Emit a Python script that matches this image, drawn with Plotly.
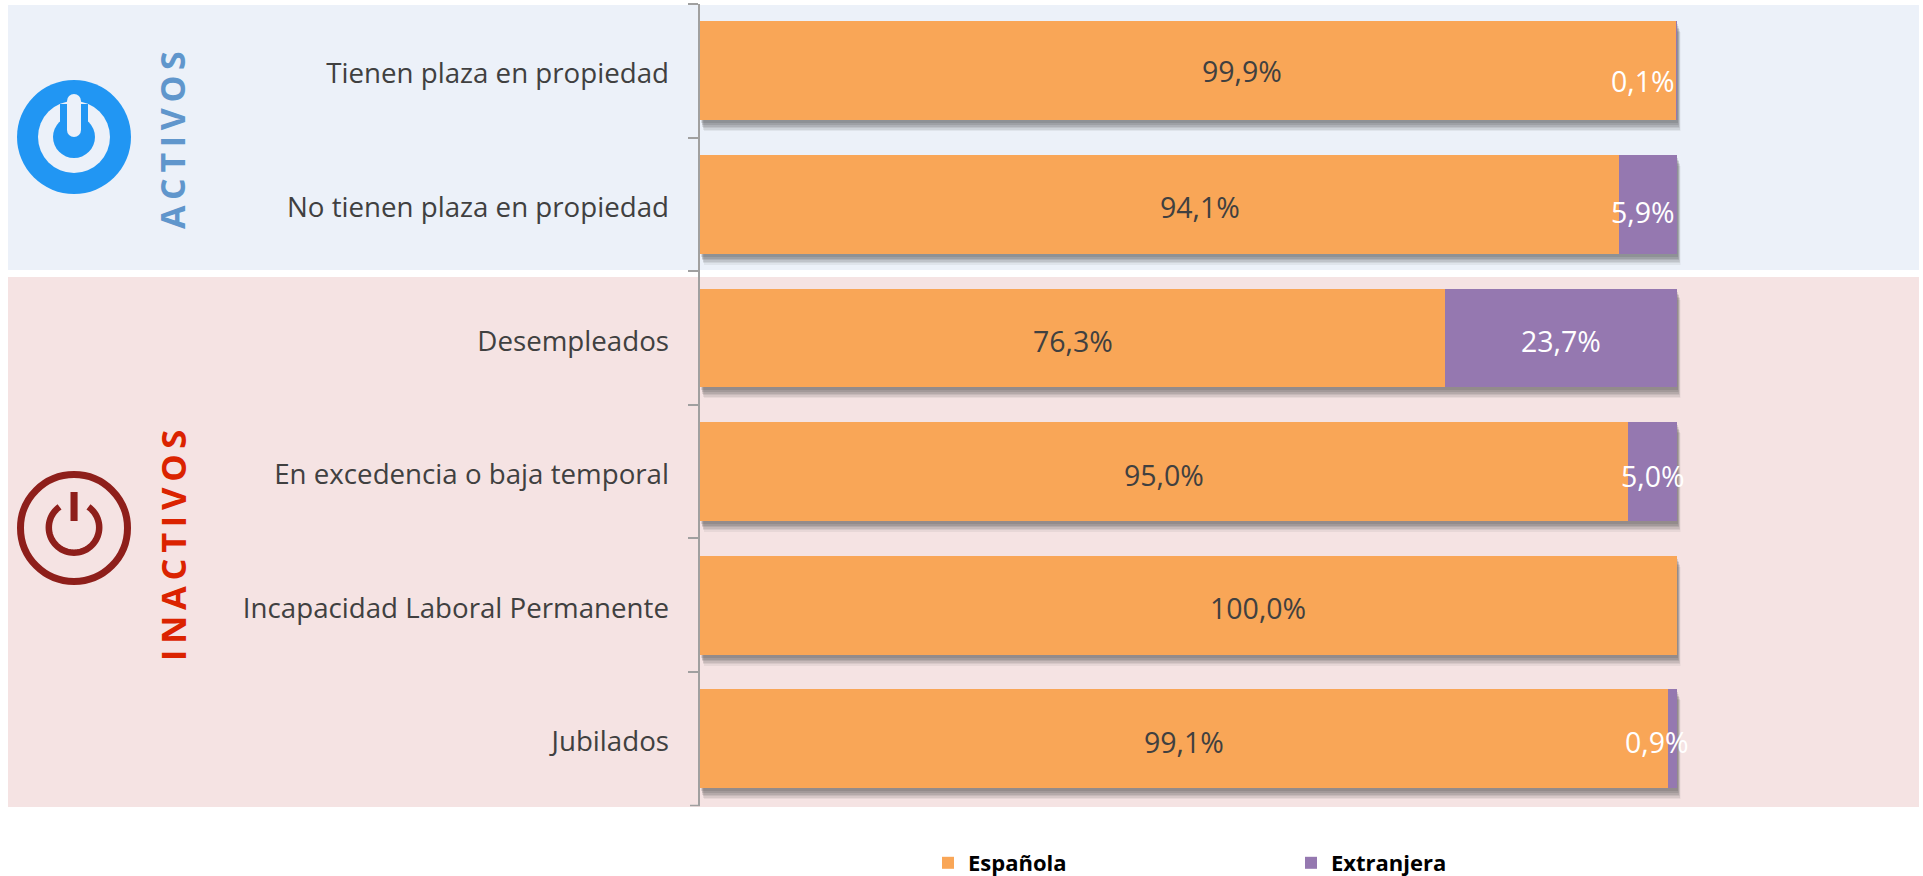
import numpy as np
import plotly.graph_objects as go

categories = ["Tienen plaza en propiedad", "No tienen plaza en propiedad", "Desempleados",
              "En excedencia o baja temporal", "Incapacidad Laboral Permanente", "Jubilados"]
espanola = [99.9, 94.1, 76.3, 95.0, 100.0, 99.1]
extranjera = [0.1, 5.9, 23.7, 5.0, 0.0, 0.9]
series_names = ["Española", "Extranjera"]

# label nudges (style only, px), as placed by hand in the original
esp_dx = [54, 40, 0, 0, 69, 0]
esp_dy = [0, 3, 3, 3, 3, 3]
ext_dx = [-34, -5, 0, 0, 0, -16]
ext_dy = [10, 8, 3, 4, 0, 3]

W, H = 1923, 876
ORANGE, PURPLE = "#F9A657", "#9578B0"
BLUE_BG, RED_BG = "#ECF1F9", "#F5E3E3"
FONT = "Open Sans"
X0, X1, Y0, Y1 = 700, 1677, 4, 805.5


def px(x):
    return x / W


def py(y):
    return 1 - y / H


def rect(x0, y0, x1, y1, fill):
    return dict(type="rect", xref="paper", yref="paper", x0=px(x0), x1=px(x1), y0=py(y0), y1=py(y1),
                fillcolor=fill, line_width=0, layer="below")


def circle(cx, cy, r, fill, line=None, lw=0):
    return dict(type="circle", xref="paper", yref="paper", x0=px(cx - r), x1=px(cx + r), y0=py(cy - r),
                y1=py(cy + r), fillcolor=fill, line=dict(color=line or fill, width=lw), layer="below")


fig = go.Figure()
shapes = [rect(8, 5, 1919, 270, BLUE_BG), rect(8, 277, 1919, 807, RED_BG)]

# blue power icon
shapes += [circle(74, 137, 57, "#2196F3"), circle(74, 137, 36, BLUE_BG), circle(74, 137, 21, "#2196F3"),
           rect(60, 104, 88, 137, "#2196F3"), rect(67, 101, 81, 130, BLUE_BG),
           circle(74, 101, 7, BLUE_BG), circle(74, 130, 7, BLUE_BG)]
# red power icon
RED = "#8E1F1B"
shapes += [circle(74, 528, 53.5, "rgba(0,0,0,0)", RED, 7)]
t = np.radians(np.arange(-55, 236, 5))
arc_pts = [(74 + 25.2 * np.sin(np.radians(90) - a), 527.5 + 25.2 * np.cos(np.radians(90) - a)) for a in t]
path = "M" + "L".join(f"{px(a):.5f},{py(b):.5f}" for a, b in arc_pts)
shapes += [dict(type="path", xref="paper", yref="paper", path=path, line=dict(color=RED, width=6.5), layer="below"),
           rect(70.5, 492, 77.6, 521, RED)]
# closing tick at the foot of the category axis
shapes += [dict(type="line", xref="paper", yref="paper", x0=px(X0 - 10), x1=px(X0), y0=py(Y1), y1=py(Y1),
                line=dict(color="#A0A0A0", width=1.5))]

# soft shadow: the same totals drawn on slightly displaced copies of the axes
totals = [a + b for a, b in zip(espanola, extranjera)]
layers = [(3.5, 11, .07), (3, 9.5, .09), (2.5, 8, .11), (2, 6.5, .13), (1.5, 5, .14), (1, 3, .14)]
axes = {}
for i, (dx, dy, al) in enumerate(layers, start=1):
    fig.add_trace(go.Bar(y=categories, x=totals, orientation="h", xaxis=f"x{i}", yaxis=f"y{i}",
                         marker=dict(color=f"rgba(60,60,60,{al})", line_width=0), showlegend=False,
                         hoverinfo="skip", width=0.74))
    axes[f"xaxis{i}"] = dict(domain=[px(X0 + dx), px(X1 + dx)], range=[0, 100], visible=False, anchor=f"y{i}")
    axes[f"yaxis{i}"] = dict(domain=[py(Y1 + dy), py(Y0 + dy)], range=[5.5, -0.5], visible=False,
                             anchor=f"x{i}", type="category", categoryorder="array", categoryarray=categories)
# the category names sit 3px lower than the row centres: they use the last displaced axis
axes[f"yaxis{len(layers)}"].update(visible=True, showline=False, ticks="", showgrid=False, zeroline=False,
                                   ticklabelstandoff=31, tickfont=dict(family=FONT, size=27.7, color="#404040"))

n = len(layers) + 1
xa, ya = f"x{n}", f"y{n}"
for name, vals, col in zip(series_names, [espanola, extranjera], [ORANGE, PURPLE]):
    fig.add_trace(go.Bar(y=categories, x=vals, name=name, orientation="h", xaxis=xa, yaxis=ya,
                         marker=dict(color=col, line_width=0), width=0.74))
axes[f"xaxis{n}"] = dict(domain=[px(X0), px(X1)], range=[0, 100], visible=False, anchor=ya)
axes[f"yaxis{n}"] = dict(domain=[py(Y1), py(Y0)], range=[5.5, -0.5], anchor=xa, type="category",
                         categoryorder="array", categoryarray=categories, tickson="boundaries",
                         ticks="outside", ticklen=10, tickwidth=1.5, tickcolor="#A0A0A0",
                         showline=True, linecolor="#A0A0A0", linewidth=1.5, showgrid=False,
                         showticklabels=False)


def fmt(v):
    return f"{v:.1f}".replace(".", ",") + "%"


ann = []
for i, c in enumerate(categories):
    ann.append(dict(x=espanola[i] / 2, y=c, xref=xa, yref=ya, text=fmt(espanola[i]), showarrow=False,
                    xshift=esp_dx[i], yshift=-esp_dy[i], font=dict(family=FONT, size=28.5, color="#404040")))
    if extranjera[i] > 0:
        ann.append(dict(x=espanola[i] + extranjera[i] / 2, y=c, xref=xa, yref=ya, text=fmt(extranjera[i]),
                        showarrow=False, xshift=ext_dx[i], yshift=-ext_dy[i],
                        font=dict(family=FONT, size=28.5, color="#FFFFFF")))
ann.append(dict(x=px(172), y=py(140), xref="paper", yref="paper", xanchor="center", yanchor="middle",
                text="A\u2009C\u2009T\u2009I\u2009V\u2009O\u2009S",
                textangle=-90, showarrow=False, font=dict(family=FONT, size=34, weight=700, color="#6096CC")))
ann.append(dict(x=px(172), y=py(546), xref="paper", yref="paper", xanchor="center", yanchor="middle",
                text="I\u2009N\u2009A\u2009C\u2009T\u2009I\u2009V\u2009O\u2009S", textangle=-90, showarrow=False,
                font=dict(family=FONT, size=34.5, weight=700, color="#DB2300")))

fig.update_layout(width=W, height=H, margin=dict(l=0, r=0, t=0, b=0, autoexpand=False), barmode="stack",
                  paper_bgcolor="white", plot_bgcolor="rgba(0,0,0,0)", shapes=shapes, annotations=ann,
                  legend=dict(orientation="h", x=px(928), y=py(842), xanchor="left", yanchor="top",
                              entrywidth=318, entrywidthmode="pixels", itemwidth=30, traceorder="normal",
                              font=dict(family=FONT, size=22, weight=700, color="#000000"),
                              bgcolor="rgba(0,0,0,0)"),
                  **axes)
fig.write_html("out.html", config=dict(displayModeBar=False),
               post_script="document.body.style.margin='0';document.body.style.overflow='hidden';")
